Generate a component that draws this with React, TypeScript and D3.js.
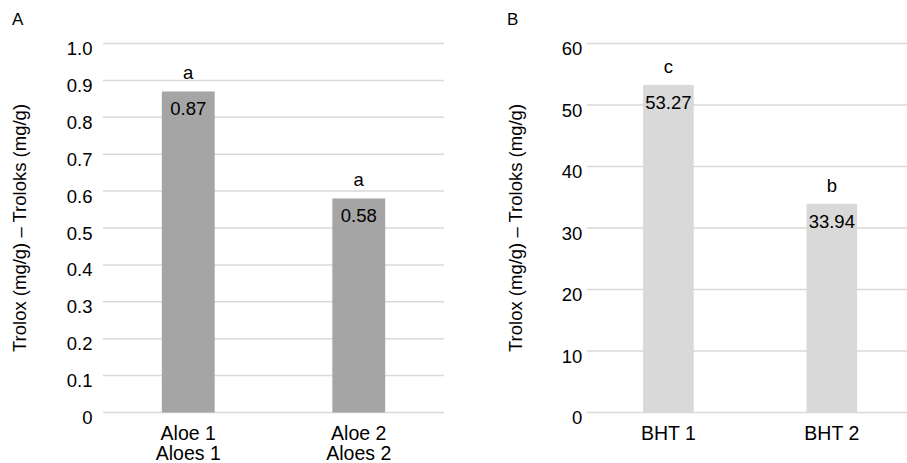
import React from "react";
import * as d3 from "d3";

const catsA = ["Aloe 1|Aloes 1", "Aloe 2|Aloes 2"];
const valsA = [0.87, 0.58];
const lettersA = ["a", "a"];
const labelsA = ["0.87", "0.58"];
const ticksA = [0, 0.1, 0.2, 0.3, 0.4, 0.5, 0.6, 0.7, 0.8, 0.9, 1.0];

const catsB = ["BHT 1", "BHT 2"];
const valsB = [53.27, 33.94];
const lettersB = ["c", "b"];
const labelsB = ["53.27", "33.94"];
const ticksB = [0, 10, 20, 30, 40, 50, 60];

const yTitle = "Trolox (mg/g) – Troloks (mg/g)";
const FONT = "'Liberation Sans', Arial, sans-serif";

type PanelProps = {
  cats: string[];
  vals: number[];
  letters: string[];
  labels: string[];
  ticks: number[];
  max: number;
  fmt: (v: number) => string;
  x0: number;
  x1: number;
  tickRight: number;
  titleX: number;
  panelLabel: string;
  panelLabelX: number;
  color: string;
};

function Panel(p: PanelProps) {
  const y = d3.scaleLinear().domain([0, p.max]).range([412.5, 43.5]);
  const x = d3.scaleBand().domain(p.cats).range([p.x0, p.x1]).paddingInner(0.69).paddingOuter(0.345);
  const bw = x.bandwidth();
  return (
    <g>
      <text x={p.panelLabelX} y={25} fontSize={17} fontFamily={FONT}>{p.panelLabel}</text>
      {p.ticks.map((t) => (
        <g key={t}>
          <line x1={p.x0} x2={Math.min(p.x1, 907)} y1={y(t)} y2={y(t)} stroke="#d9d9d9" strokeWidth={1.5} />
          <text x={p.tickRight} y={y(t) + 11.5} textAnchor="end" fontSize={18.5} fontFamily={FONT} fill="#000">
            {p.fmt(t)}
          </text>
        </g>
      ))}
      {p.cats.map((c, i) => {
        const cx = (x(c) as number) + bw / 2;
        const top = y(p.vals[i]);
        return (
          <g key={c}>
            <rect x={x(c)} y={top} width={bw} height={y(0) - top} fill={p.color} />
            <text x={cx} y={top - 12} textAnchor="middle" fontSize={18.5} fontFamily={FONT}>{p.letters[i]}</text>
            <text x={cx} y={top + 24} textAnchor="middle" fontSize={18.5} fontFamily={FONT}>{p.labels[i]}</text>
            {c.split("|").map((ln, j) => (
              <text key={j} x={cx} y={440 + j * 20} textAnchor="middle" fontSize={19.5} fontFamily={FONT}>{ln}</text>
            ))}
          </g>
        );
      })}
      <text
        transform={`translate(${p.titleX},${(y(0) + y(p.max)) / 2}) rotate(-90)`}
        textAnchor="middle"
        fontSize={18.5}
        fontFamily={FONT}
      >
        {yTitle}
      </text>
    </g>
  );
}

export default function App() {
  return (
    <svg width={907} height={463} style={{ position: "absolute", left: 0, top: 0, background: "#fff" }}>
      <rect width={907} height={463} fill="#fff" />
      <Panel
        cats={catsA}
        vals={valsA}
        letters={lettersA}
        labels={labelsA}
        ticks={ticksA}
        max={1.0}
        fmt={(v) => (v === 0 ? "0" : v.toFixed(1))}
        x0={103}
        x1={444}
        tickRight={92.5}
        titleX={25.5}
        panelLabel="A"
        panelLabelX={12}
        color="#a5a5a5"
      />
      <Panel
        cats={catsB}
        vals={valsB}
        letters={lettersB}
        labels={labelsB}
        ticks={ticksB}
        max={60}
        fmt={(v) => String(v)}
        x0={586.7}
        x1={913.5}
        tickRight={582.3}
        titleX={522}
        panelLabel="B"
        panelLabelX={507}
        color="#d9d9d9"
      />
    </svg>
  );
}
